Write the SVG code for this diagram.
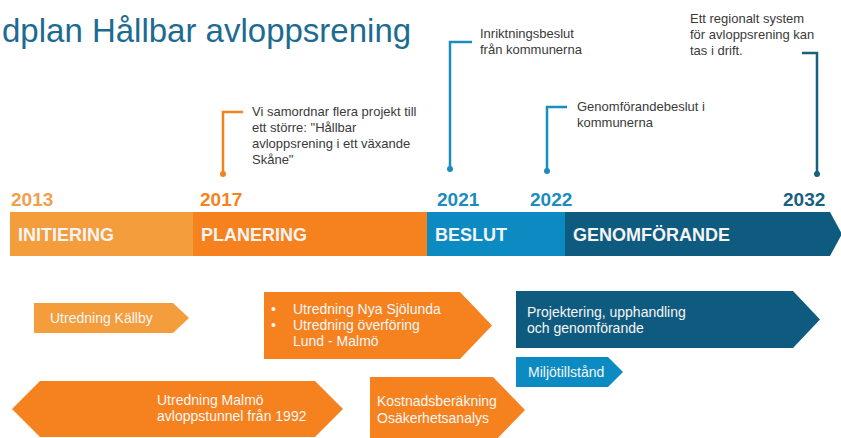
<svg xmlns="http://www.w3.org/2000/svg" width="841" height="438" viewBox="0 0 841 438">
<style>
text{font-family:"Liberation Sans",Arial,sans-serif}
.title{font-size:33px;fill:#1D6B91}
.yr{font-size:19px;font-weight:bold}
.ph{font-size:18px;font-weight:bold;fill:#F4F4F4}
.note{font-size:13px;fill:#3A3A3A}
.lbl{font-size:14px;fill:#F6F6F6}
.lo{fill:#F39D3C}.or{fill:#F5821F}.bl{fill:#0B8BC1}.db{fill:#0F5B7F}
.tlo{fill:#F0A04A}.tor{fill:#F5821F}.tbl{fill:#1A8DBD}.tdb{fill:#17607F}
.co{fill:none;stroke-width:2.5}
</style>
<rect width="841" height="438" fill="#FFFFFF"/>
<text class="title" x="2" y="42">dplan Hållbar avloppsrening</text>

<g id="timeline">
<g id="initiering"><rect class="lo" x="10" y="212" width="183" height="44"/><text class="ph" x="18" y="241">INITIERING</text></g>
<g id="planering"><rect class="or" x="193" y="212" width="234" height="44"/><text class="ph" x="201" y="241">PLANERING</text></g>
<g id="beslut"><rect class="bl" x="427" y="212" width="138" height="44"/><text class="ph" x="435" y="241">BESLUT</text></g>
<g id="genomforande"><polygon class="db" points="565,212 830,212 842,234 830,256 565,256"/><text class="ph" x="573" y="241">GENOMFÖRANDE</text></g>
</g>

<g id="years">
<text class="yr tlo" x="11" y="206">2013</text>
<text class="yr tor" x="200" y="206">2017</text>
<text class="yr tbl" x="437" y="206">2021</text>
<text class="yr tbl" x="530" y="206">2022</text>
<text class="yr tdb" x="783" y="206">2032</text>
</g>

<g id="connectors">
<path class="co" stroke="#F5821F" d="M243,112 H223 V174"/><circle cx="223" cy="174" r="3" fill="#F5821F"/>
<path class="co" stroke="#1A8DBD" d="M472,42 H450 V169"/><circle cx="450" cy="169" r="3" fill="#1A8DBD"/>
<path class="co" stroke="#1A8DBD" d="M567,107 H547 V171"/><circle cx="547" cy="171" r="3" fill="#1A8DBD"/>
<path class="co" stroke="#17607F" d="M802,53 H817 V174"/><circle cx="817" cy="174" r="3" fill="#17607F"/>
</g>

<g id="note2017">
<text class="note" x="252" y="116">Vi samordnar flera projekt till</text>
<text class="note" x="252" y="132">ett större: "Hållbar</text>
<text class="note" x="252" y="148">avloppsrening i ett växande</text>
<text class="note" x="252" y="164">Skåne"</text>
</g>
<g id="note2021">
<text class="note" x="480" y="38">Inriktningsbeslut</text>
<text class="note" x="480" y="54">från kommunerna</text>
</g>
<g id="note2022">
<text class="note" x="577" y="111">Genomförandebeslut i</text>
<text class="note" x="577" y="127">kommunerna</text>
</g>
<g id="note2032">
<text class="note" x="690" y="23">Ett regionalt system</text>
<text class="note" x="690" y="39">för avloppsrening kan</text>
<text class="note" x="690" y="55">tas i drift.</text>
</g>

<g id="kallby"><polygon class="lo" points="34,303 173,303 189,318 173,333 34,333"/><text class="lbl" x="50" y="323">Utredning Källby</text></g>
<g id="sjolunda"><polygon class="or" points="264,292 460,292 492,325.5 460,359 264,359"/>
<text class="lbl" x="271" y="314">•</text><text class="lbl" x="293" y="314">Utredning Nya Sjölunda</text>
<text class="lbl" x="271" y="330">•</text><text class="lbl" x="293" y="330">Utredning överföring</text>
<text class="lbl" x="293" y="346">Lund - Malmö</text></g>
<g id="malmo"><polygon class="or" points="12,409 40,381 315,381 343,409 315,437 40,437"/>
<text class="lbl" x="157" y="405">Utredning Malmö</text><text class="lbl" x="157" y="421">avloppstunnel från 1992</text></g>
<g id="kostnad"><polygon class="or" points="370,377 493,377 525,410 493,443 370,443"/>
<text class="lbl" x="377" y="406">Kostnadsberäkning</text><text class="lbl" x="377" y="423">Osäkerhetsanalys</text></g>
<g id="projektering"><polygon class="db" points="516,291 793,291 820,319.5 793,348 516,348"/>
<text class="lbl" x="527" y="317">Projektering, upphandling</text><text class="lbl" x="527" y="333">och genomförande</text></g>
<g id="miljo"><polygon class="bl" points="516,357 608,357 623,372 608,387 516,387"/>
<text class="lbl" x="528" y="377">Miljötillstånd</text></g>
</svg>
